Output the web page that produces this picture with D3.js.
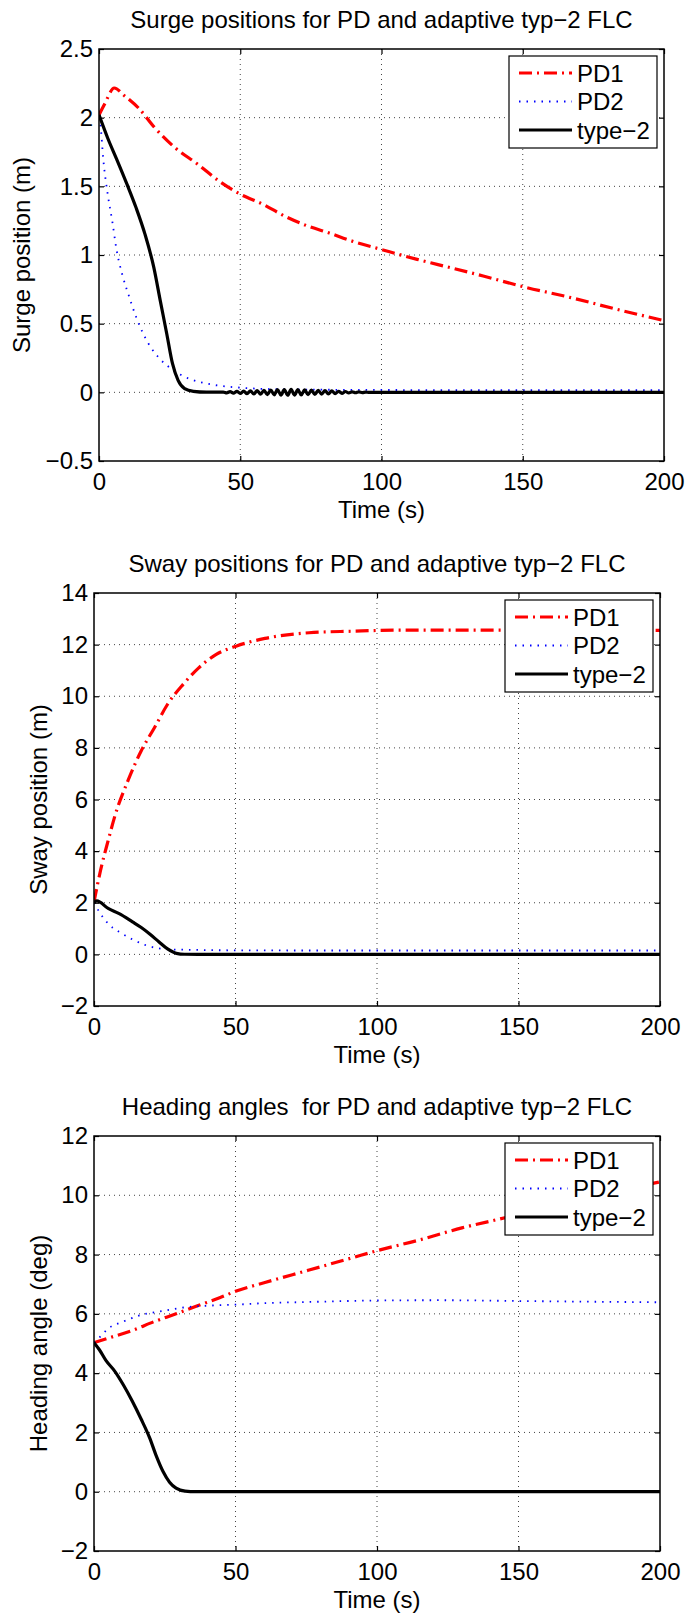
<!DOCTYPE html>
<html>
<head>
<meta charset="utf-8">
<script src="https://cdn.jsdelivr.net/npm/d3@7"></script>
<style>
body { margin: 0; background: #fff; }
text { font-family: "Liberation Sans", Arial, Helvetica, sans-serif; fill: #000; }
.grid line { stroke: #444; stroke-width: 1; stroke-dasharray: 1,4; }
.axis text { font-size: 24px; }
.axis line { stroke: #000; stroke-width: 1.2; }
.axis path { display: none; }
.title, .xlabel, .ylabel, .legend text { font-size: 24px; }
</style>
</head>
<body>
<svg id="fig" width="689" height="1614"></svg>
<script>
var timeTicks = [0, 50, 100, 150, 200];
var surgeTicks = [-0.5, 0, 0.5, 1, 1.5, 2, 2.5];
var swayTicks = [-2, 0, 2, 4, 6, 8, 10, 12, 14];
var headingTicks = [-2, 0, 2, 4, 6, 8, 10, 12];
var legendNames = ["PD1", "PD2", "type\u22122"];

// surge position (m), [time, value]
var surgePD1 = [[0,2.02],[2,2.1],[5.4,2.216],[9,2.16],[14,2.07],[19.6,1.93],[27,1.78],[35,1.66],[42.7,1.535],
  [50,1.443],[58,1.37],[66,1.28],[74,1.21],[81.5,1.16],[89,1.105],[100,1.04],[112.6,0.968],[120,0.93],
  [136,0.847],[150,0.77],[167,0.69],[183,0.606],[200,0.522]];
var surgePD2 = [[0,2.0],[0.5,1.95],[1.5,1.7],[3.1,1.44],[4.7,1.245],[6.2,1.04],[8.2,0.86],[10.4,0.714],
  [13.2,0.545],[16.3,0.4],[21,0.256],[25.6,0.171],[31.8,0.1],[39.6,0.058],[50,0.034],[65,0.022],[90,0.018],
  [130,0.016],[200,0.015]];
var surgeT2 = [[0,2.02],[3.1,1.85],[6.2,1.7],[10,1.51],[13.2,1.34],[16.3,1.15],[19.4,0.91],[21.7,0.666],
  [24,0.425],[26,0.21],[28,0.087],[30.3,0.027],[33.4,0.007],[38,0.001],[44,0.002],[45.2,-0.004],[46.4,0.005],
  [47.6,-0.006],[48.8,0.007],[50,-0.008],[51.2,0.009],[52.4,-0.01],[53.6,0.011],[54.8,-0.012],[56,0.013],
  [57.2,-0.014],[58.4,0.015],[59.6,-0.016],[60.8,0.017],[62,-0.018],[63.2,0.019],[64.4,-0.02],[65.6,0.02],
  [66.8,-0.021],[68,0.021],[69.2,-0.02],[70.4,0.02],[71.6,-0.019],[72.8,0.018],[74,-0.017],[75.2,0.016],
  [76.4,-0.015],[77.6,0.014],[78.8,-0.013],[80,0.012],[81.2,-0.011],[82.4,0.01],[83.6,-0.009],[84.8,0.008],
  [86,-0.007],[87.2,0.006],[88.4,-0.005],[89.6,0.004],[90.8,-0.003],[92,0.003],[93.2,-0.002],[94.4,0.002],
  [95.6,-0.001],[97,0],[200,0]];

// sway position (m)
var swayPD1 = [[0,2.03],[2.3,3.25],[5,4.41],[7.6,5.44],[12,6.73],[16.7,7.89],[21.4,8.79],[26,9.69],
  [31.5,10.46],[37,11.1],[43.2,11.62],[50.2,11.94],[60.4,12.24],[76,12.46],[91.5,12.52],[107,12.56],
  [123,12.56],[160,12.56],[200,12.55]];
var swayPD2 = [[0,2.0],[1.9,1.64],[5,1.19],[8.9,0.87],[13.6,0.58],[18.2,0.36],[22.9,0.23],[27.6,0.19],
  [32,0.18],[45,0.16],[80,0.15],[140,0.15],[200,0.15]];
var swayT2 = [[0,2.0],[1,2.07],[5,1.78],[8.9,1.58],[13.6,1.26],[16.7,1.04],[19.8,0.78],[22.9,0.49],
  [26,0.21],[29.1,0.04],[32,0.005],[40,0],[200,0]];

// heading angle (deg)
var headPD1 = [[0,5.03],[5.7,5.2],[13.5,5.44],[21.3,5.74],[29,6.0],[36.8,6.28],[44.6,6.55],[50,6.76],
  [60.1,7.05],[75.7,7.47],[91.2,7.89],[100,8.13],[114.5,8.48],[130,8.9],[145.6,9.25],[170,9.85],[200,10.45]];
var headPD2 = [[0,5.03],[1.9,5.2],[5,5.5],[10.4,5.74],[16.6,5.96],[24.4,6.1],[32.2,6.22],[41.5,6.28],
  [50,6.31],[60,6.36],[75.7,6.4],[100,6.45],[122,6.46],[153,6.43],[200,6.39]];
var headT2 = [[0,5.03],[1.9,4.79],[4.2,4.43],[7.3,4.07],[10.4,3.6],[13.5,3.06],[16.6,2.46],[19.7,1.81],
  [22,1.21],[24.4,0.68],[26.7,0.32],[29,0.12],[32.2,0.02],[36,0.002],[45,0],[200,0]];

var styles = [
  {color: "#ff0000", width: 3.2, dash: "13,5,2,5"},
  {color: "#0000ff", width: 1.8, dash: "1.5,6"},
  {color: "#000000", width: 3.2, dash: null}
];

var panels = [
  {left: 99, top: 49, w: 565, h: 412, domain: [-0.5, 2.5], ticks: surgeTicks, ylabelX: 30,
   title: "Surge positions for PD and adaptive typ\u22122 FLC", ylabel: "Surge position (m)",
   series: [surgePD1, surgePD2, surgeT2]},
  {left: 94, top: 593, w: 566, h: 413, domain: [-2, 14], ticks: swayTicks, ylabelX: 47,
   title: "Sway positions for PD and adaptive typ\u22122 FLC", ylabel: "Sway position (m)",
   series: [swayPD1, swayPD2, swayT2]},
  {left: 94, top: 1136, w: 566, h: 415, domain: [-2, 12], ticks: headingTicks, ylabelX: 47,
   title: "Heading angles  for PD and adaptive typ\u22122 FLC", ylabel: "Heading angle (deg)",
   series: [headPD1, headPD2, headT2]}
];

var svg = d3.select("#fig");
var fmt = d3.format("~g");

function drawPanel(p, idx)
{
  var x = d3.scaleLinear().domain([0, 200]).range([0, p.w]);
  var y = d3.scaleLinear().domain(p.domain).range([p.h, 0]);
  var g = svg.append("g").attr("transform", "translate(" + p.left + "," + p.top + ")");

  g.append("clipPath").attr("id", "clip" + idx)
    .append("rect").attr("width", p.w).attr("height", p.h);

  // dotted grid
  var grid = g.append("g").attr("class", "grid");
  grid.selectAll(".gx").data(timeTicks.slice(1, -1)).enter().append("line")
    .attr("x1", x).attr("x2", x).attr("y1", 0).attr("y2", p.h);
  grid.selectAll(".gy").data(p.ticks.slice(1, -1)).enter().append("line")
    .attr("x1", 0).attr("x2", p.w).attr("y1", y).attr("y2", y);

  // series
  var line = d3.line()
    .x(function(d){ return x(d[0]); })
    .y(function(d){ return y(d[1]); })
    .curve(d3.curveMonotoneX);
  var lines = g.append("g").attr("clip-path", "url(#clip" + idx + ")");
  p.series.forEach(function(s, i){
    lines.append("path")
      .datum(s)
      .attr("d", line)
      .attr("fill", "none")
      .attr("stroke", styles[i].color)
      .attr("stroke-width", styles[i].width)
      .attr("stroke-dasharray", styles[i].dash)
      .attr("stroke-linejoin", "round");
  });

  // axes, ticks pointing inward on all four sides
  g.append("g").attr("class", "axis")
    .attr("transform", "translate(0," + p.h + ")")
    .call(d3.axisBottom(x).tickValues(timeTicks).tickSize(-5).tickPadding(12).tickFormat(fmt));
  g.append("g").attr("class", "axis")
    .call(d3.axisTop(x).tickValues(timeTicks).tickSize(-5).tickFormat(""));
  g.append("g").attr("class", "axis")
    .call(d3.axisLeft(y).tickValues(p.ticks).tickSize(-5).tickPadding(6).tickFormat(fmt));
  g.append("g").attr("class", "axis")
    .attr("transform", "translate(" + p.w + ",0)")
    .call(d3.axisRight(y).tickValues(p.ticks).tickSize(-5).tickFormat(""));

  g.append("rect")
    .attr("width", p.w).attr("height", p.h)
    .attr("fill", "none").attr("stroke", "#000").attr("stroke-width", 1.5);

  // legend
  var lg = g.append("g").attr("class", "legend")
    .attr("transform", "translate(" + (p.w - 155) + ",7)");
  lg.append("rect").attr("width", 148).attr("height", 92)
    .attr("fill", "#fff").attr("stroke", "#000").attr("stroke-width", 1.2);
  legendNames.forEach(function(name, i){
    var ly = 17 + i * 28.5;
    lg.append("line")
      .attr("x1", 10).attr("x2", 63).attr("y1", ly).attr("y2", ly)
      .attr("stroke", styles[i].color)
      .attr("stroke-width", styles[i].width)
      .attr("stroke-dasharray", styles[i].dash);
    lg.append("text").attr("x", 68).attr("y", ly + 8.5).text(name);
  });

  // titles
  g.append("text").attr("class", "title")
    .attr("x", p.w / 2).attr("y", -21)
    .attr("text-anchor", "middle")
    .style("white-space", "pre")
    .text(p.title);
  g.append("text").attr("class", "xlabel")
    .attr("x", p.w / 2).attr("y", p.h + 57)
    .attr("text-anchor", "middle")
    .text("Time (s)");
  svg.append("text").attr("class", "ylabel")
    .attr("transform", "translate(" + p.ylabelX + "," + (p.top + p.h / 2) + ") rotate(-90)")
    .attr("text-anchor", "middle")
    .text(p.ylabel);
}

panels.forEach(drawPanel);
</script>
</body>
</html>
